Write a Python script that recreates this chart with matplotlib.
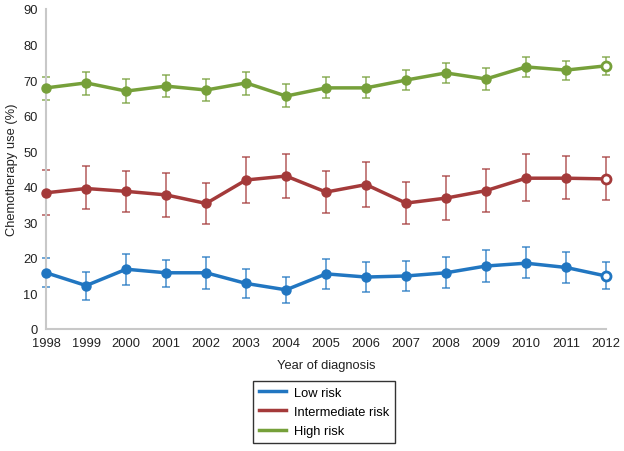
import numpy as np
import matplotlib.pyplot as plt

plt.rcParams['font.family'] = ['Liberation Sans', 'DejaVu Sans']

years = np.arange(1998, 2013)

low = [15.8, 12.2, 16.8, 15.8, 15.8, 12.8, 11.0, 15.5, 14.6, 14.9, 15.8, 17.7, 18.5, 17.3, 14.9]
low_hi = [20.0, 16.0, 21.0, 19.5, 20.3, 16.9, 14.7, 19.7, 18.7, 19.2, 20.2, 22.2, 23.0, 21.7, 18.7]
low_lo = [11.7, 8.2, 12.3, 11.8, 11.3, 8.6, 7.3, 11.2, 10.4, 10.6, 11.4, 13.3, 14.3, 12.8, 11.1]

inter = [38.3, 39.5, 38.7, 37.7, 35.3, 41.9, 43.0, 38.5, 40.6, 35.4, 36.8, 38.9, 42.4, 42.4, 42.2]
inter_hi = [44.8, 45.7, 44.5, 43.8, 41.0, 48.3, 49.3, 44.5, 47.0, 41.4, 43.0, 45.0, 49.2, 48.7, 48.3]
inter_lo = [32.0, 33.6, 32.8, 31.5, 29.5, 35.3, 36.8, 32.5, 34.4, 29.5, 30.6, 32.8, 36.0, 36.5, 36.2]

high = [67.8, 69.2, 66.9, 68.3, 67.2, 69.2, 65.5, 67.8, 67.8, 70.0, 72.0, 70.3, 73.7, 72.8, 74.0]
high_hi = [71.0, 72.3, 70.3, 71.5, 70.2, 72.3, 68.8, 70.8, 70.8, 72.8, 74.9, 73.3, 76.5, 75.5, 76.5]
high_lo = [64.4, 65.8, 63.6, 65.2, 64.0, 65.8, 62.4, 64.9, 64.9, 67.2, 69.3, 67.3, 71.0, 70.0, 71.5]

series = [
    ("Low risk", low, low_lo, low_hi, "#2176c1"),
    ("Intermediate risk", inter, inter_lo, inter_hi, "#a43a3a"),
    ("High risk", high, high_lo, high_hi, "#76a03a"),
]

fig = plt.figure(figsize=(6.24, 4.52), dpi=100)
ax = fig.add_axes([0.074, 0.27, 0.897, 0.708])

for name, y, lo, hi, c in series:
    y = np.array(y)
    err = [y - np.array(lo), np.array(hi) - y]
    ax.errorbar(years, y, yerr=err, fmt="none", ecolor=c, alpha=0.7,
                elinewidth=1.3, capsize=3, capthick=1.3, clip_on=False, zorder=2)
    ax.plot(years, y, color=c, lw=2.5, label=name, clip_on=False, zorder=3)
    ax.plot(years[:-1], y[:-1], "o", color=c, ms=6.5, clip_on=False, zorder=4)
    ax.plot(years[-1:], y[-1:], "o", mfc="white", mec=c, mew=2, ms=6.5,
            clip_on=False, zorder=4)

ax.set_xlim(1998, 2012)
ax.set_ylim(0, 90)
ax.set_xticks(years)
ax.set_yticks(range(0, 91, 10))
ax.tick_params(length=0, labelsize=9.3, pad=6, labelcolor="#222222")
for s in ["top", "right"]:
    ax.spines[s].set_visible(False)
for s in ["left", "bottom"]:
    ax.spines[s].set_color("#c8c8c8")
    ax.spines[s].set_linewidth(1.5)
ax.set_xlabel("Year of diagnosis", fontsize=9.3, labelpad=7, color="#222222")
ax.set_ylabel("Chemotherapy use (%)", fontsize=9.3, labelpad=4, color="#222222")

leg = fig.legend(loc="upper center", bbox_to_anchor=(0.519, 0.155), fontsize=9.3,
                 frameon=True, fancybox=False, edgecolor="black",
                 handlelength=2.1, handletextpad=0.6, borderpad=0.45,
                 labelspacing=0.55, borderaxespad=0)
leg.get_frame().set_linewidth(1.0)

fig.savefig("out.png", dpi=100)
